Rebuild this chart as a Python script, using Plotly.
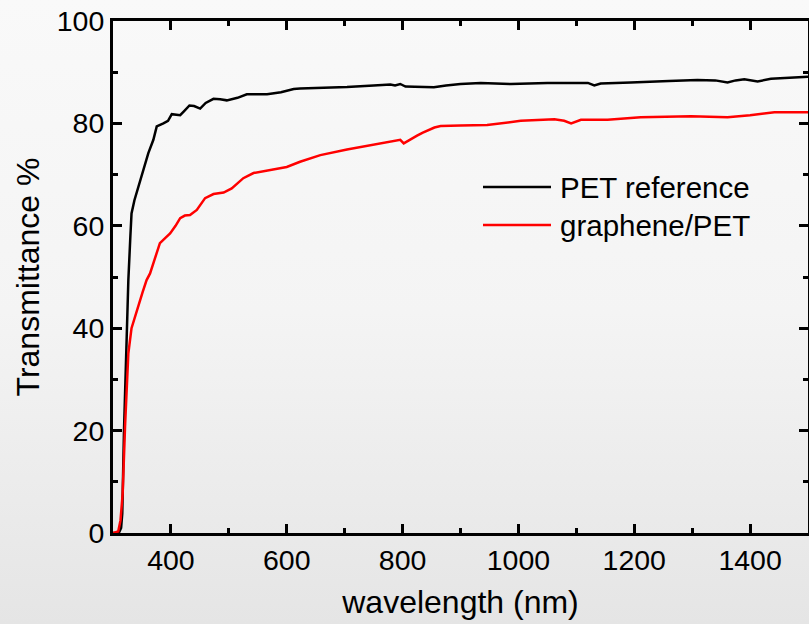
import base64
import plotly.graph_objects as go

# ---- data ----
pet_wl = [300, 310, 314, 316, 319, 322.5, 326.5, 330, 332, 337, 343.8, 352, 361, 369.7, 375.5, 387,
          395, 401.5, 416, 422, 432, 440, 450.5, 460, 473.5, 485, 496.5, 515, 531, 550, 566, 590, 612,
          623, 658, 704, 750, 779, 787, 796, 805, 830, 854, 875, 900, 935, 987, 1050, 1102, 1120,
          1131, 1142, 1194, 1211, 1260, 1309, 1340, 1361, 1375, 1390, 1413, 1436, 1470, 1500]
pet_T = [0, 0, 1, 3.8, 20, 36.4, 49.4, 58, 62.4, 65, 67.6, 71, 74.2, 76.8, 79.4, 80,
         80.5, 81.8, 81.6, 82.3, 83.5, 83.4, 82.9, 84, 84.8, 84.7, 84.5, 85, 85.7, 85.7, 85.7, 86.1, 86.7,
         86.8, 86.9, 87.1, 87.4, 87.6, 87.4, 87.7, 87.2, 87.1, 87.05, 87.4, 87.7, 87.9, 87.7, 87.9, 88.0, 87.9,
         87.4, 87.8, 88.0, 88.1, 88.3, 88.5, 88.4, 88.0, 88.4, 88.6, 88.2, 88.7, 88.9, 89.1]

gr_wl = [300, 309, 313, 316.7, 320.8, 326.5, 332, 338, 344, 351, 358, 364, 372, 381, 390, 398.6,
         408, 416, 424, 433, 444.7, 459, 473.5, 491, 505, 525, 542.6, 571.5, 600, 623, 658, 704,
         750, 796, 802, 815, 825, 835, 845, 855, 865.7, 880, 900, 946, 1004, 1062, 1079, 1091, 1108,
         1154, 1211, 1298, 1361, 1400, 1442, 1500]
gr_T = [0, 0.3, 2.5, 7.7, 20.8, 35.1, 40, 42.3, 44.2, 47, 49.4, 50.7, 53.5, 56.6, 57.6, 58.5,
        60, 61.5, 62, 62.1, 63.1, 65.4, 66.2, 66.5, 67.3, 69.3, 70.3, 70.9, 71.5, 72.5, 73.8, 74.9,
        75.9, 76.8, 76.1, 77.0, 77.6, 78.2, 78.7, 79.2, 79.5, 79.6, 79.6, 79.7, 80.5, 80.8, 80.5, 80.0, 80.7,
        80.7, 81.2, 81.4, 81.2, 81.6, 82.2, 82.2]

series_names = ["PET reference", "graphene/PET"]
series_colors = ["#000000", "#ff0000"]

FONT = "Liberation Sans, Arial, Helvetica, sans-serif"

fig = go.Figure()
fig.add_trace(go.Scatter(x=pet_wl, y=pet_T, mode="lines", name=series_names[0],
                         line=dict(color=series_colors[0], width=2.5), showlegend=False))
fig.add_trace(go.Scatter(x=gr_wl, y=gr_T, mode="lines", name=series_names[1],
                         line=dict(color=series_colors[1], width=2.5), showlegend=False))

# gradient background as an inline SVG image
svg = ('<svg xmlns="http://www.w3.org/2000/svg" width="100" height="100" preserveAspectRatio="none">'
       '<defs><linearGradient id="g" x1="0" y1="0" x2="0" y2="1">'
       '<stop offset="0" stop-color="#f9f9f9"/><stop offset="0.5" stop-color="#f4f4f4"/>'
       '<stop offset="1" stop-color="#e5e5e5"/></linearGradient></defs>'
       '<rect width="100" height="100" fill="url(#g)"/></svg>')
src = "data:image/svg+xml;base64," + base64.b64encode(svg.encode()).decode()

W, H = 809, 624
L, R, T, B = 113, 1, 21, 91
pw, ph = W - L - R, H - T - B

def px(xp):
    return (xp - L) / pw

def py(yp):
    return (H - B - yp) / ph

fig.add_layout_image(dict(source=src, xref="paper", yref="paper", x=px(0), y=py(0),
                          sizex=px(W) - px(0), sizey=py(0) - py(H), sizing="stretch",
                          xanchor="left", yanchor="top", layer="below"))

# manual legend (long line samples like the reference)
leg_y = [187, 225]
for i, name in enumerate(series_names):
    fig.add_shape(type="line", xref="paper", yref="paper", x0=px(483), x1=px(551),
                  y0=py(leg_y[i]), y1=py(leg_y[i]), line=dict(color=series_colors[i], width=2.5))
    fig.add_annotation(text=name, xref="paper", yref="paper", x=px(558), y=py(leg_y[i]),
                       xanchor="left", yanchor="middle", showarrow=False,
                       font=dict(family=FONT, size=29.5, color="black"))

axis_common = dict(showline=True, linecolor="black", linewidth=3, mirror="ticks",
                   ticks="inside", ticklen=9, tickwidth=3, tickcolor="black",
                   showgrid=False, zeroline=False,
                   tickfont=dict(family=FONT, size=28.5, color="black"))

fig.update_xaxes(range=[300, 1500], tick0=400, dtick=200,
                 minor=dict(ticks="inside", dtick=100, tick0=300, ticklen=5, tickwidth=3,
                            tickcolor="black", showgrid=False),
                 title=dict(text="wavelength (nm)", font=dict(family=FONT, size=32, color="black"),
                            standoff=16),
                 **axis_common)
fig.update_yaxes(range=[0, 100], tick0=0, dtick=20,
                 minor=dict(ticks="inside", dtick=10, ticklen=5, tickwidth=3,
                            tickcolor="black", showgrid=False),
                 title=dict(text="Transmittance %", font=dict(family=FONT, size=32, color="black"),
                            standoff=8),
                 **axis_common)

fig.update_layout(width=W, height=H, margin=dict(l=L, r=R, t=T, b=B, autoexpand=False),
                  paper_bgcolor="#f4f4f4", plot_bgcolor="rgba(0,0,0,0)",
                  showlegend=False, font=dict(family=FONT, color="black"))

fig.write_html("out.html", config={"displayModeBar": False},
               post_script="document.body.style.margin='0';document.body.style.overflow='hidden';")
